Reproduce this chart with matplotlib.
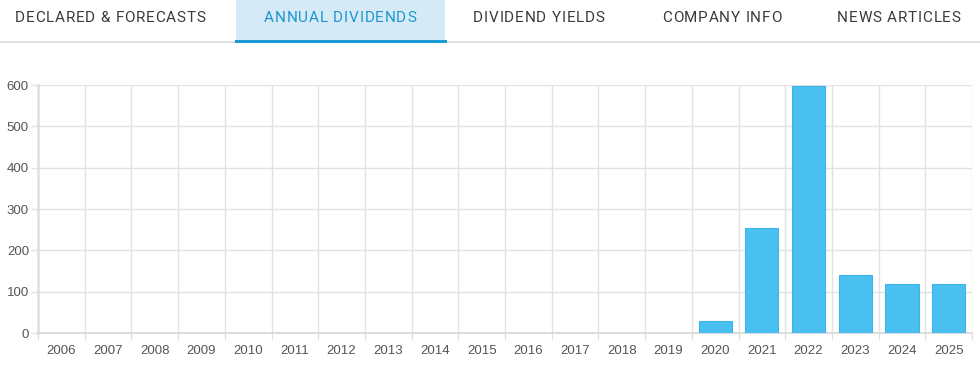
import matplotlib
matplotlib.use("Agg")
import matplotlib.pyplot as plt
from matplotlib.font_manager import FontProperties
from matplotlib.patches import Rectangle
import numpy as np

years = [str(y) for y in range(2006, 2026)]
dividends = [0, 0, 0, 0, 0, 0, 0, 0, 0, 0, 0, 0, 0, 0,
             30, 255, 597, 141, 119, 119]
yticks = [0, 100, 200, 300, 400, 500, 600]
tabs = ["DECLARED & FORECASTS", "ANNUAL DIVIDENDS", "DIVIDEND YIELDS",
        "COMPANY INFO", "NEWS ARTICLES"]
tab_starts = [15, 264, 473, 662, 837]
active_tab = 1

W, H = 980, 366
fig = plt.figure(figsize=(W / 100, H / 100), dpi=100)
fig.patch.set_facecolor("white")


def px(x, y):
    return x / W, 1 - y / H


# tab bar
fig.add_artist(Rectangle(px(236, 41), 209 / W, 41 / H, transform=fig.transFigure,
                         facecolor="#d5eaf6", edgecolor="none"))
fig.add_artist(plt.Line2D([0, 1], [1 - 41.5 / H] * 2, transform=fig.transFigure,
                          color="#dcdcdc", lw=1.2))
fig.add_artist(plt.Line2D([236 / W, 445 / W], [1 - 41 / H] * 2,
                          transform=fig.transFigure, color="#1b9ad6", lw=2.2))

renderer = fig.canvas.get_renderer()
tab_font = FontProperties(family=["Roboto", "DejaVu Sans"], size=11.0)
spacing = 0.8  # px between letters
for i, (label, x0) in enumerate(zip(tabs, tab_starts)):
    color = "#1b96cf" if i == active_tab else "#3a3a3a"
    for j, ch in enumerate(label):
        if ch == " ":
            continue
        w = renderer.get_text_width_height_descent(label[:j], tab_font, ismath=False)[0] if j else 0
        fig.text((x0 + w + j * spacing) / W, 1 - 18 / H, ch, fontproperties=tab_font,
                 color=color, ha="left", va="center")

# chart
ax = fig.add_axes([38 / W, 33 / H, (972 - 38) / W, (333 - 85) / H])
x = np.arange(len(years))
ax.bar(x, dividends, width=0.71, color="#49c0ef", edgecolor="#3cb6ea",
       linewidth=0.8, zorder=3)
ax.set_xlim(-0.5, len(years) - 0.5)
ax.set_ylim(0, 600)
ax.set_yticks(yticks)
ax.set_xticks(x)
ax.set_xticklabels(years)
ax.set_xticks(np.arange(-0.5, len(years), 1), minor=True)

ax.grid(False)
for b in np.arange(0.5, len(years) - 0.5, 1):
    ax.axvline(b, color="#e2e2e2", lw=1, zorder=1)
for t in yticks[1:]:
    ax.axhline(t, color="#e2e2e2", lw=1, zorder=1)

for s in ["top", "right"]:
    ax.spines[s].set_visible(False)
ax.spines["left"].set_color("#dedede")
ax.spines["left"].set_linewidth(1.8)
ax.spines["bottom"].set_color("#d6d6d6")
ax.spines["bottom"].set_linewidth(1.2)
ax.axvline(len(years) - 0.5, color="#e2e2e2", lw=1, zorder=1)

lab_font = dict(family=["Liberation Sans", "DejaVu Sans"], size=9.5)
ax.tick_params(axis="x", which="major", length=0, pad=9, labelcolor="#555555")
ax.tick_params(axis="x", which="minor", length=5, color="#e2e2e2", width=1)
ax.tick_params(axis="y", length=5, color="#e2e2e2", width=1, pad=1.5,
               labelcolor="#555555")
for lab in ax.get_xticklabels() + ax.get_yticklabels():
    lab.set_fontfamily(lab_font["family"])
    lab.set_fontsize(lab_font["size"])

fig.savefig("out.png", dpi=100, facecolor="white")
